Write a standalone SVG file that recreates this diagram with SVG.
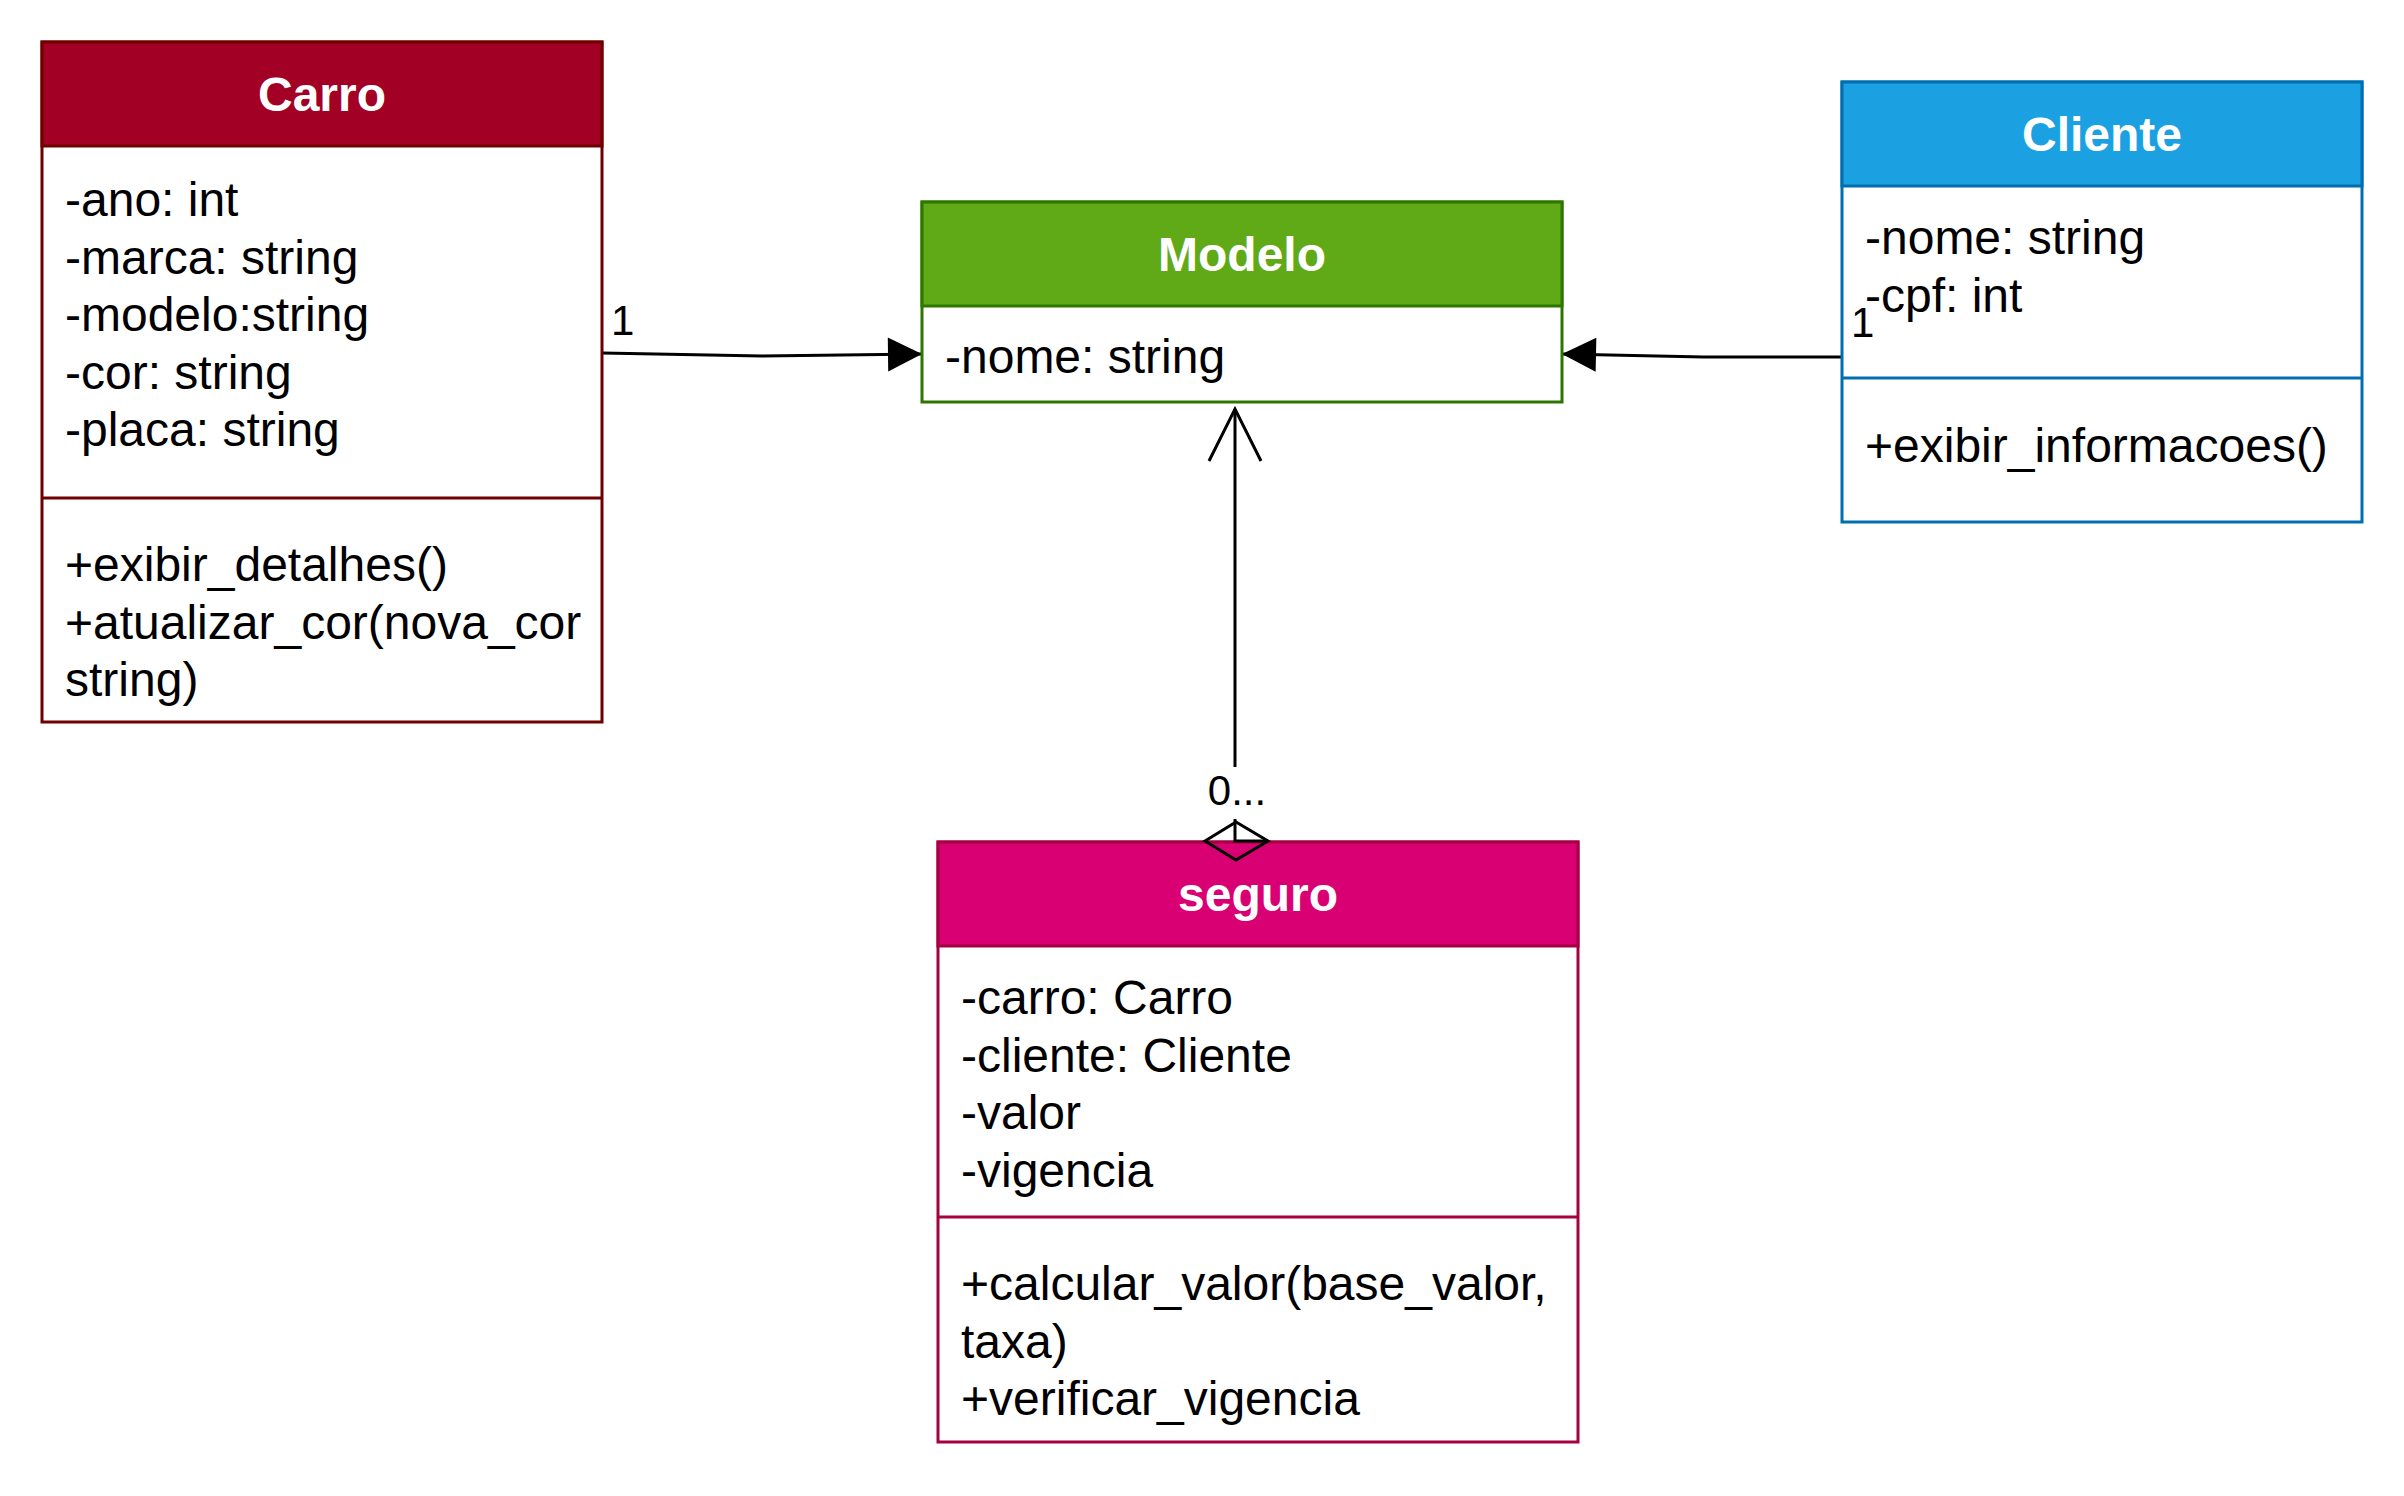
<svg xmlns="http://www.w3.org/2000/svg" width="2404" height="1496" viewBox="0 0 2404 1496">
<defs>
<style>
.t{font-family:"Liberation Sans",Arial,Helvetica,sans-serif;font-size:48px;fill:#000}
.h{font-family:"Liberation Sans",Arial,Helvetica,sans-serif;font-size:48px;font-weight:bold;fill:#fff;text-anchor:middle}
.lbl{font-family:"Liberation Sans",Arial,Helvetica,sans-serif;font-size:42px;fill:#000}
.body{fill:#fff;stroke-width:3}
.edge{fill:none;stroke:#000;stroke-width:3}
</style>
<marker id="block" markerUnits="userSpaceOnUse" markerWidth="40" markerHeight="40" refX="34" refY="17" orient="auto" overflow="visible">
<path d="M0,0 L34,17 L0,34 Z" fill="#000"/>
</marker>
<marker id="open" markerUnits="userSpaceOnUse" markerWidth="60" markerHeight="60" refX="52" refY="26" orient="auto" overflow="visible">
<path d="M0,0 L52,26 L0,52" fill="none" stroke="#000" stroke-width="3"/>
</marker>
</defs>
<rect width="2404" height="1496" fill="#fff"/>

<g id="connectors">
<path class="edge" d="M602,353 L762,356 L922,354" marker-end="url(#block)"/>
<text class="lbl" x="611" y="335">1</text>
<path class="edge" d="M1842,357 L1704,357 L1562,354" marker-end="url(#block)"/>
<path class="edge" d="M1235,822 L1235,409" marker-end="url(#open)"/>
<rect x="1208" y="767" width="58" height="52" fill="#fff"/>
<text class="lbl" x="1237" y="805" text-anchor="middle">0...</text>
</g>

<g id="Carro">
<rect class="body" x="42" y="42" width="560" height="680" stroke="#6F0000"/>
<rect x="42" y="42" width="560" height="104" fill="#a20025" stroke="#6F0000" stroke-width="3"/>
<text class="h" x="322" y="111">Carro</text>
<text class="t" x="65" y="216">-ano: int</text>
<text class="t" x="65" y="273.6">-marca: string</text>
<text class="t" x="65" y="331.2">-modelo:string</text>
<text class="t" x="65" y="388.8">-cor: string</text>
<text class="t" x="65" y="446.4">-placa: string</text>
<line x1="42" y1="498" x2="602" y2="498" stroke="#6F0000" stroke-width="3"/>
<text class="t" x="65" y="581">+exibir_detalhes()</text>
<text class="t" x="65" y="638.6">+atualizar_cor(nova_cor</text>
<text class="t" x="65" y="696.2">string)</text>
</g>

<g id="Modelo">
<rect class="body" x="922" y="202" width="640" height="200" stroke="#2D7600"/>
<rect x="922" y="202" width="640" height="104" fill="#60a917" stroke="#2D7600" stroke-width="3"/>
<text class="h" x="1242" y="271">Modelo</text>
<text class="t" x="945" y="373">-nome: string</text>
</g>

<g id="Cliente">
<rect class="body" x="1842" y="82" width="520" height="440" stroke="#006EAF"/>
<rect x="1842" y="82" width="520" height="104" fill="#1ba1e2" stroke="#006EAF" stroke-width="3"/>
<text class="h" x="2102" y="151">Cliente</text>
<text class="t" x="1865" y="254">-nome: string</text>
<text class="t" x="1865" y="311.6">-cpf: int</text>
<line x1="1842" y1="378" x2="2362" y2="378" stroke="#006EAF" stroke-width="3"/>
<text class="t" x="1865" y="462">+exibir_informacoes()</text>
<text class="lbl" x="1851" y="337">1</text>
</g>

<g id="seguro">
<rect class="body" x="938" y="842" width="640" height="600" stroke="#A50040"/>
<rect x="938" y="842" width="640" height="104" fill="#d80073" stroke="#A50040" stroke-width="3"/>
<text class="h" x="1258" y="911">seguro</text>
<text class="t" x="961" y="1014">-carro: Carro</text>
<text class="t" x="961" y="1071.6">-cliente: Cliente</text>
<text class="t" x="961" y="1129.2">-valor</text>
<text class="t" x="961" y="1186.8">-vigencia</text>
<line x1="938" y1="1217" x2="1578" y2="1217" stroke="#A50040" stroke-width="3"/>
<text class="t" x="961" y="1300">+calcular_valor(base_valor,</text>
<text class="t" x="961" y="1357.6">taxa)</text>
<text class="t" x="961" y="1415.2">+verificar_vigencia</text>
</g>

<g id="aggregation">
<polygon points="1205,841 1236,822 1268,841 1236,860" fill="none" stroke="#000" stroke-width="3"/>
<path d="M1235,822 L1235,841 L1268,841" fill="none" stroke="#000" stroke-width="3"/>
</g>
</svg>
